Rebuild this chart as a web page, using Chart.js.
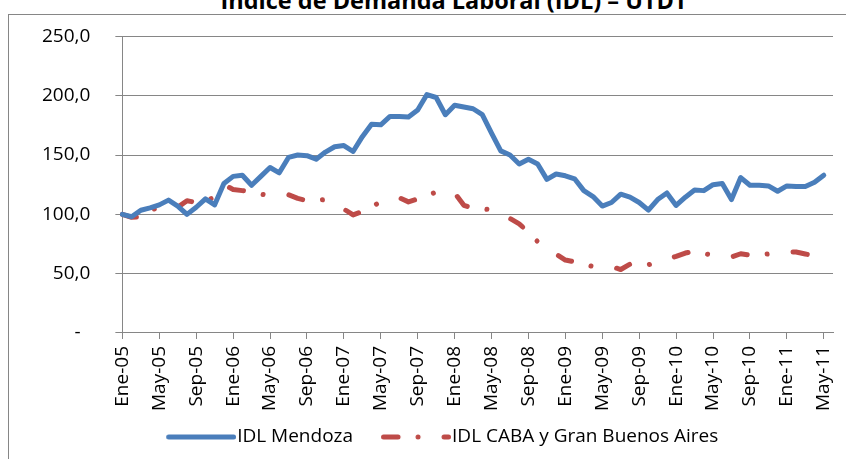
<!DOCTYPE html>
<html>
<head>
<meta charset="utf-8">
<script src="https://cdn.jsdelivr.net/npm/chart.js@4.4.0/dist/chart.umd.min.js"></script>
<style>
  html, body { margin: 0; padding: 0; background: #fff; overflow: hidden; }
  #wrap { position: relative; width: 846px; height: 459px; overflow: hidden; }
  #frame { position: absolute; left: 8px; top: 14px; width: 900px; height: 500px; border: 1px solid #868686; }
  #title { position: absolute; left: 0; top: -11px; width: 908px; text-align: center; font: bold 23.5px 'Open Sans'; line-height: 23.5px; color: #000; white-space: nowrap; }
  #chartBox { position: absolute; left: 0; top: 0; width: 846px; height: 459px; }
</style>
</head>
<body>
<div id="wrap">
  <div id="frame"></div>
  <div id="title">Índice de Demanda Laboral (IDL) – UTDT</div>
  <div id="chartBox"><canvas id="idlChart"></canvas></div>
</div>
<script>
// meses Ene-05 .. Jun-11 (el ultimo queda vacio)
const mesesAbrev = ['Ene', 'Feb', 'Mar', 'Abr', 'May', 'Jun', 'Jul', 'Ago', 'Sep', 'Oct', 'Nov', 'Dic'];
const anios = ['05', '06', '07', '08', '09', '10', '11'];
const meses = [];
anios.forEach(a => mesesAbrev.forEach(m => meses.push(m + '-' + a)));
meses.length = 78;

const idlMendoza = [
  100, 98, 103.5, 105.5, 108, 112, 107, 100, 106, 113, 108, 126,
  132, 133, 124.5, 132, 139.5, 135, 148, 150, 149.5, 146.5, 152.5, 157,
  158, 153, 165.5, 176, 175.5, 182.5, 182.5, 182, 188, 201, 198.5, 184,
  192, 190.5, 189, 184, 168.5, 153.5, 150, 142.5, 146.5, 142.5, 129.5, 134,
  132.5, 130, 120, 115, 107, 110, 117, 114.5, 110, 103.5, 112.5, 118,
  107.5, 114.5, 120.5, 120, 125, 126, 112.5, 131, 124.5, 124.5, 124, 119.5,
  124, 123.5, 123.5, 127, 133
];

const idlCaba = [
  100, 97.5, 98, 103, 106.5, 108, 106, 111.5, 110, 112, 114, 125,
  121, 120, 119, 117, 116, 117, 116.5, 113.5, 111.5, 112, 112.4, 109,
  104.5, 99.5, 102.5, 106, 111, 113, 114, 110.5, 113, 116, 118.8, 119,
  118, 107.6, 105, 104.5, 104, 100, 96.5, 92, 85, 77, 71, 66.5,
  61.5, 60, 58, 56, 56, 56, 53.5, 58, 58, 57.5, 60, 62,
  64.6, 67.4, 69, 67, 65.5, 65, 64, 66.8, 65.5, 66, 66.6, 67,
  68, 68.3, 66.6, 65, 65
];

const ejeY = { min: 0, max: 250, paso: 50 };
const gris = '#868686';
const azul = '#4A7EBB';
const rojo = '#BE4B48';
const trazoRojo = [14.5, 20, 0.01, 26];

// muestra de linea para la leyenda (la leyenda de Chart.js no aplica el guion con usePointStyle)
function muestraLeyenda(color, dash) {
  const c = document.createElement('canvas');
  c.width = 97;
  c.height = 10;
  const g = c.getContext('2d');
  g.strokeStyle = color;
  g.lineWidth = 5;
  g.lineCap = 'round';
  g.setLineDash(dash);
  g.beginPath();
  g.moveTo(29.5, 5);
  g.lineTo(94.5, 5);
  g.stroke();
  return c;
}

Chart.defaults.font.family = "'Open Sans', sans-serif";
Chart.defaults.font.size = 19;
Chart.defaults.color = '#000';

new Chart(document.getElementById('idlChart'), {
  type: 'line',
  data: {
    labels: meses,
    datasets: [
      {
        label: 'IDL Mendoza',
        data: idlMendoza,
        borderColor: azul,
        backgroundColor: azul,
        borderWidth: 5,
        borderCapStyle: 'round',
        borderJoinStyle: 'round',
        pointRadius: 0,
        pointStyle: muestraLeyenda(azul, []),
        tension: 0
      },
      {
        label: 'IDL CABA y Gran Buenos Aires',
        data: idlCaba,
        borderColor: rojo,
        backgroundColor: rojo,
        borderWidth: 5,
        borderDash: trazoRojo,
        borderCapStyle: 'round',
        borderJoinStyle: 'round',
        pointRadius: 0,
        pointStyle: muestraLeyenda(rojo, trazoRojo),
        tension: 0
      }
    ]
  },
  options: {
    responsive: true,
    maintainAspectRatio: false,
    animation: false,
    layout: { padding: { left: 33, right: 13, top: 35, bottom: 2.5 } },
    plugins: {
      legend: {
        position: 'bottom',
        labels: {
          usePointStyle: true,
          pointStyleWidth: 80,
          boxHeight: 19,
          padding: 9.5
        }
      },
      tooltip: { enabled: false }
    },
    scales: {
      x: {
        offset: false,
        afterFit: axis => { axis.paddingRight = 0; },
        grid: {
          drawOnChartArea: false,
          tickLength: 6,
          tickColor: ctx => (ctx.index % 4 === 0 ? gris : 'rgba(0,0,0,0)')
        },
        border: { color: gris },
        ticks: {
          autoSkip: false,
          minRotation: 90,
          maxRotation: 90,
          padding: 7,
          callback: function (v, i) {
            return i % 4 === 0 ? this.getLabelForValue(v) : '';
          }
        }
      },
      y: {
        min: ejeY.min,
        max: ejeY.max,
        afterFit: axis => { axis.width -= 16; },
        grid: { color: gris, tickLength: 7 },
        border: { color: gris },
        ticks: {
          stepSize: ejeY.paso,
          padding: 25,
          callback: v => (v === 0 ? '-  ' : v.toFixed(1).replace('.', ','))
        }
      }
    }
  }
});
</script>
</body>
</html>
